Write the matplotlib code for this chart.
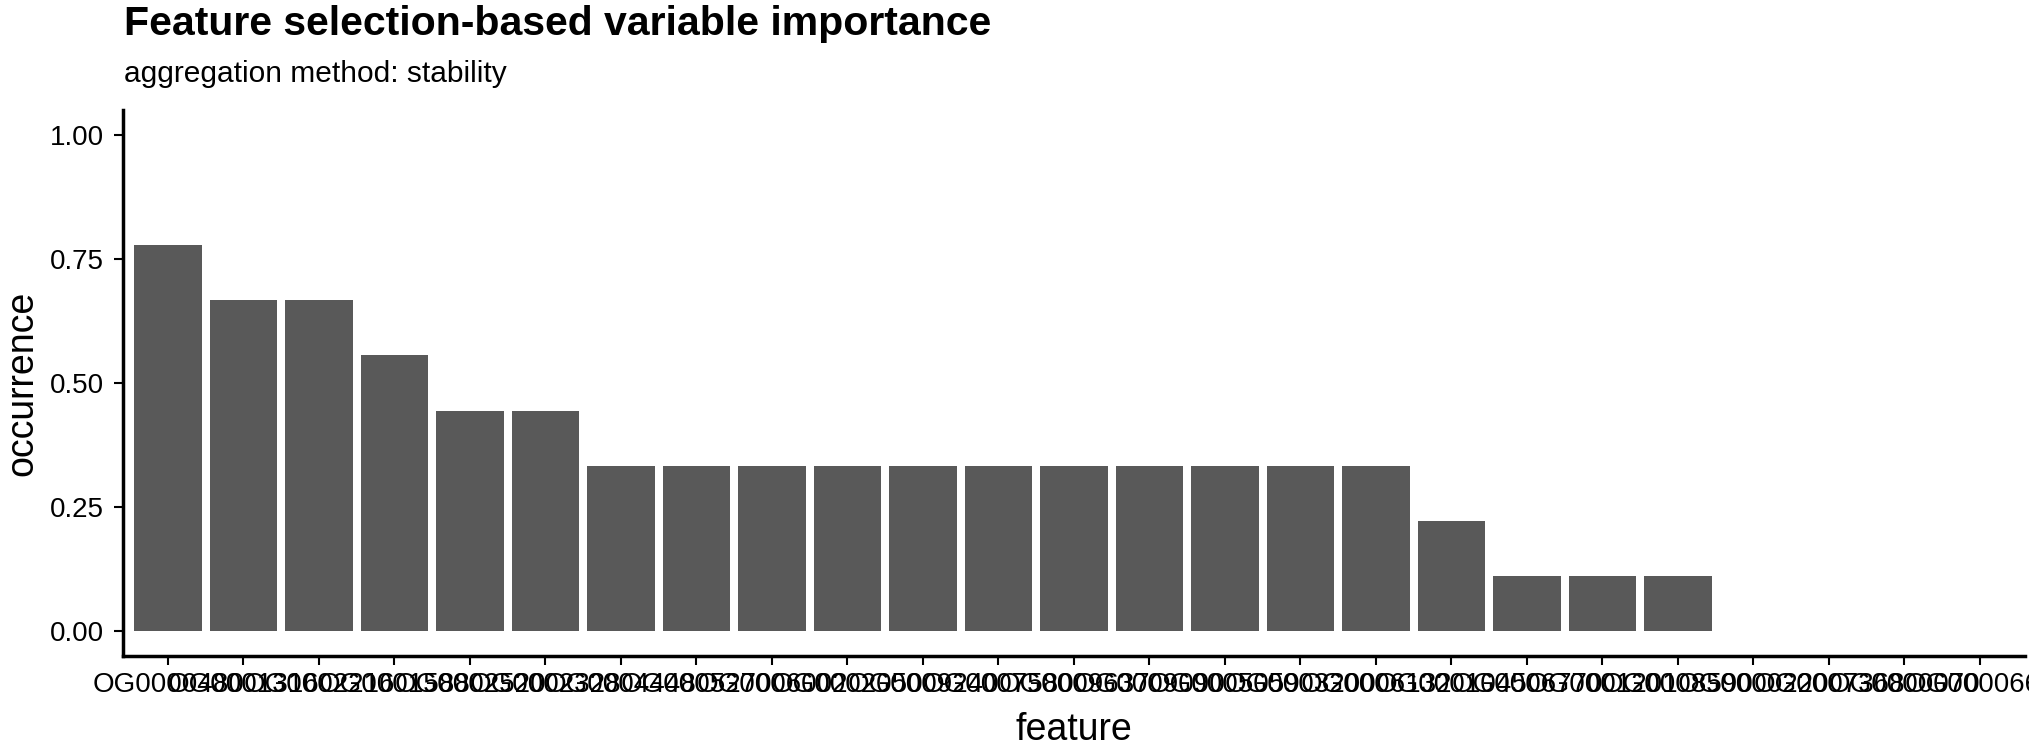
import matplotlib
matplotlib.use('Agg')
import matplotlib.pyplot as plt
import numpy as np

# feature names (x tick labels are overplotted in the original, best guess)
features = ['OG0000480', 'OG0001316', 'OG0002216', 'OG0001588', 'OG0002520',
            'OG0002328', 'OG0004448', 'OG0005270', 'OG0006002', 'OG0002050',
            'OG0009240', 'OG0007580', 'OG0009637', 'OG0009090', 'OG0005059',
            'OG0003200', 'OG0006132', 'OG0001045', 'OG0006770', 'OG0001201',
            'OG0008590', 'OG0000220', 'OG0007368', 'OG0000070', 'OG0000662']
occurrence = [0.778, 0.667, 0.667, 0.556, 0.444, 0.444,
              0.333, 0.333, 0.333, 0.333, 0.333, 0.333, 0.333, 0.333,
              0.333, 0.333, 0.333, 0.222, 0.111, 0.111, 0.111,
              0.0, 0.0, 0.0, 0.0]
yticks = [0.00, 0.25, 0.50, 0.75, 1.00]

plt.rcParams['font.family'] = ['Liberation Sans', 'DejaVu Sans']

W, H = 2029, 751
fig = plt.figure(figsize=(W / 100, H / 100), dpi=100)
ax = fig.add_axes([122.7 / W, 1 - 656.3 / H, (2025.3 - 122.7) / W, (656.3 - 109.8) / H])

x = np.arange(1, len(features) + 1)
ax.bar(x, occurrence, width=0.9, color='#595959')

ax.set_xlim(0.4, len(features) + 0.6)
ax.set_ylim(-0.05, 1.05)
ax.set_xticks(x)
ax.set_xticklabels(features)
ax.set_yticks(yticks)
ax.set_yticklabels(['%.2f' % v for v in yticks])

for s in ['top', 'right']:
    ax.spines[s].set_visible(False)
for s in ['left', 'bottom']:
    ax.spines[s].set_linewidth(2.5)
ax.tick_params(axis='both', length=6.5, width=1.5, color='black',
               labelsize=20, labelcolor='black')
ax.tick_params(axis='y', pad=7)
ax.tick_params(axis='x', pad=5)

fig.text(124 / W, 1 - 35 / H, 'Feature selection-based variable importance',
         fontsize=29.5, fontweight='bold', ha='left', va='baseline')
fig.text(124 / W, 1 - 82 / H, 'aggregation method: stability',
         fontsize=21.5, ha='left', va='baseline')
fig.text(1074 / W, 1 - 740 / H, 'feature', fontsize=27, ha='center', va='baseline')
fig.text(40 / W, 1 - 383 / H, 'occurrence', fontsize=27, rotation=90,
         ha='right', va='center')

fig.savefig('out.png', dpi=100)
